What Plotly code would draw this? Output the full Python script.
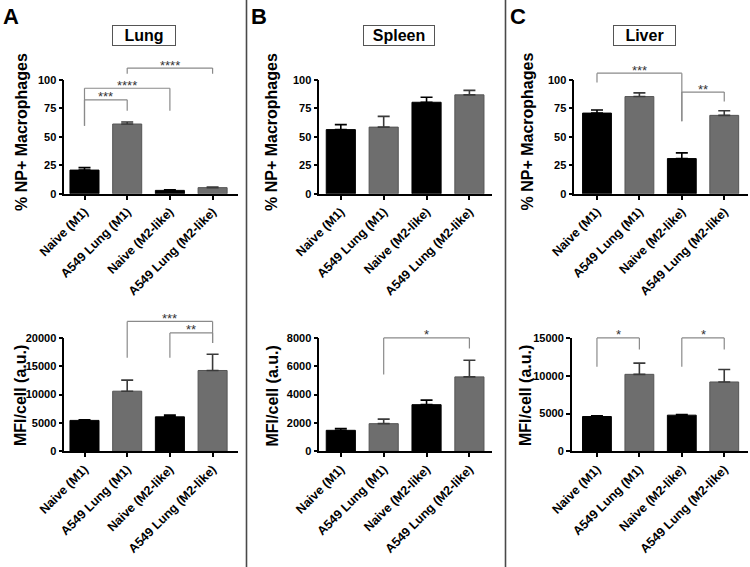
import plotly.graph_objects as go

# ---------------- data ----------------
categories = ["Naive (M1)", "A549 Lung (M1)", "Naive (M2-like)", "A549 Lung (M2-like)"]

lung_np = [20.8, 61.2, 3.0, 5.4]
lung_np_err = [2.2, 1.8, 0.6, 0.6]
spleen_np = [56.3, 58.5, 80.3, 86.8]
spleen_np_err = [4.4, 9.4, 4.4, 3.9]
liver_np = [70.8, 85.3, 30.9, 68.8]
liver_np_err = [2.7, 3.2, 5.0, 4.1]

lung_mfi = [5450, 10600, 6080, 14250]
lung_mfi_err = [100, 1950, 300, 2870]
spleen_mfi = [1480, 1950, 3290, 5250]
spleen_mfi_err = [130, 320, 320, 1170]
liver_mfi = [4600, 10180, 4780, 9170]
liver_mfi_err = [80, 1480, 90, 1660]

# significance brackets: (left idx, right idx, bar level, left leg bottom, right leg bottom, label)
lung_np_sig = [(0, 1, 82.4, 59.7, 72.9, "***"), (0, 2, 92.6, 59.7, 72.9, "****"),
               (1, 3, 110.3, 105.3, 105.3, "****")]
spleen_np_sig = []
liver_np_sig = [(0, 2, 105.8, 97.7, 63.6, "***"), (2, 3, 89.2, 63.6, 81.0, "**")]
lung_mfi_sig = [(1, 3, 22900, 16500, 19100, "***"), (2, 3, 20880, 16500, 19100, "**")]
spleen_mfi_sig = [(1, 3, 8000, 5410, 7250, "*")]
liver_mfi_sig = [(0, 1, 15000, 11180, 13460, "*"), (2, 3, 15000, 11180, 13460, "*")]

organs = ["Lung", "Spleen", "Liver"]
letters = ["A", "B", "C"]
np_title = "% NP+ Macrophages"
mfi_title = "MFI/cell (a.u.)"

# ---------------- layout helpers ----------------
W, H = 750, 567
FONT = "Liberation Sans, Arial, sans-serif"


def fx(p):
    return p / W


def fy(p):
    return 1 - p / H


panels = [
    dict(v=lung_np, e=lung_np_err, s=lung_np_sig, ymax=100, dtick=25, xd=(64.3, 238), xr=(-0.473, 3.595), yd=(193.8, 79.8)),
    dict(v=spleen_np, e=spleen_np_err, s=spleen_np_sig, ymax=100, dtick=25, xd=(319.3, 491.7), xr=(-0.502, 3.52), yd=(193.8, 79.8)),
    dict(v=liver_np, e=liver_np_err, s=liver_np_sig, ymax=100, dtick=25, xd=(574.3, 748), xr=(-0.535, 3.56), yd=(193.8, 79.8)),
    dict(v=lung_mfi, e=lung_mfi_err, s=lung_mfi_sig, ymax=20000, dtick=5000, xd=(64.3, 238), xr=(-0.473, 3.595), yd=(451.3, 337.9)),
    dict(v=spleen_mfi, e=spleen_mfi_err, s=spleen_mfi_sig, ymax=8000, dtick=2000, xd=(319.3, 491.7), xr=(-0.502, 3.52), yd=(451.3, 337.9)),
    dict(v=liver_mfi, e=liver_mfi_err, s=liver_mfi_sig, ymax=15000, dtick=5000, xd=(571.7, 748), xr=(-0.595, 3.56), yd=(451.3, 337.9)),
]

BLACK = "#000000"
GRAY = "#6e6e6e"
BAR_W = 0.68

fig = go.Figure()
shapes = []
annotations = []
layout = {}

for k, p in enumerate(panels):
    n = k + 1
    xa = "x" if n == 1 else f"x{n}"
    ya = "y" if n == 1 else f"y{n}"
    # black bars (Naive) and gray bars (A549 Lung)
    for idxs, col, ecol in (([0, 2], BLACK, BLACK), ([1, 3], GRAY, "#3a3a3a")):
        fig.add_trace(go.Bar(
            x=[categories[i] for i in idxs],
            y=[p["v"][i] for i in idxs],
            width=BAR_W,
            marker=dict(color=col, line=dict(color="#000000" if col == BLACK else "#555555", width=1)),
            error_y=dict(type="data", array=[p["e"][i] for i in idxs], arrayminus=[0, 0],
                         symmetric=False, color=ecol, thickness=1.6, width=6),
            xaxis=xa, yaxis=ya, showlegend=False, hoverinfo="skip",
        ))
    layout["xaxis" if n == 1 else f"xaxis{n}"] = dict(
        domain=[fx(p["xd"][0]), fx(p["xd"][1])], anchor=ya, automargin=False,
        type="category", categoryorder="array", categoryarray=categories,
        range=list(p["xr"]), showline=True, linecolor="black", linewidth=1.5,
        ticks="outside", ticklen=4, tickwidth=1.5, tickcolor="black",
        tickangle=-45, tickfont=dict(family=FONT, size=12.5, color="black", weight="bold"),
        showgrid=False, zeroline=False, fixedrange=True,
    )
    layout["yaxis" if n == 1 else f"yaxis{n}"] = dict(
        domain=[fy(p["yd"][0]), fy(p["yd"][1])], anchor=xa, automargin=False,
        range=[0, p["ymax"]], dtick=p["dtick"], tick0=0, tickformat="d",
        showline=True, linecolor="black", linewidth=1.5,
        ticks="outside", ticklen=4, tickwidth=1.5, tickcolor="black",
        tickfont=dict(family=FONT, size=11, color="black", weight="bold"),
        showgrid=False, zeroline=False, fixedrange=True,
    )
    # significance brackets (y given in axis-domain fractions so they may rise above the axis)
    yd_ref = ("y" if n == 1 else f"y{n}") + " domain"
    for (i, j, lvl, lb, rb, lab) in p["s"]:
        ci, cj = categories[i], categories[j]
        for (xa0, ya0, xa1, ya1) in ((ci, lb, ci, lvl), (ci, lvl, cj, lvl), (cj, lvl, cj, rb)):
            shapes.append(dict(type="line", xref=xa, yref=yd_ref,
                               x0=xa0, x1=xa1, y0=ya0 / p["ymax"], y1=ya1 / p["ymax"],
                               line=dict(color="#8a8a8a", width=1.2)))
        annotations.append(dict(xref=xa, yref=yd_ref, x=(i + j) / 2, y=lvl / p["ymax"], text=lab,
                                showarrow=False, yanchor="middle", yshift=3,
                                font=dict(family=FONT, size=13, color="#333333")))

# y-axis titles
for cx, cy, txt in ((21, 132, np_title), (271, 132, np_title), (526.5, 132, np_title),
                    (20, 396, mfi_title), (271.5, 396, mfi_title), (525, 396, mfi_title)):
    annotations.append(dict(xref="paper", yref="paper", x=fx(cx), y=fy(cy), text=txt,
                            textangle=-90, showarrow=False, xanchor="center", yanchor="middle",
                            font=dict(family=FONT, size=16, color="black", weight="bold")))

# panel letters
for cx, cy, txt in ((11, 16, letters[0]), (259, 16, letters[1]), (518, 16, letters[2])):
    annotations.append(dict(xref="paper", yref="paper", x=fx(cx), y=fy(cy), text=txt,
                            showarrow=False, xanchor="center", yanchor="middle",
                            font=dict(family=FONT, size=22, color="black", weight="bold")))

# organ title boxes
for cx, cy, bw, txt in ((143.7, 35, 62, organs[0]), (399, 35, 70, organs[1]), (644.5, 35, 61, organs[2])):
    annotations.append(dict(xref="paper", yref="paper", x=fx(cx), y=fy(cy), text=txt,
                            showarrow=False, xanchor="center", yanchor="middle",
                            width=bw, height=19, borderpad=0, bordercolor="#555555", borderwidth=1,
                            bgcolor="white",
                            font=dict(family=FONT, size=16, color="black", weight="bold")))

# panel divider lines
for xv in (246.5, 505.5):
    shapes.append(dict(type="line", xref="paper", yref="paper", x0=fx(xv), x1=fx(xv), y0=0, y1=1,
                       line=dict(color="#4a4a4a", width=1.6)))

fig.update_layout(
    width=W, height=H, margin=dict(l=0, r=0, t=0, b=0, autoexpand=False),
    paper_bgcolor="white", plot_bgcolor="white",
    barmode="overlay", shapes=shapes, annotations=annotations,
    font=dict(family=FONT), **layout,
)

fig.write_html("out.html", config={"displayModeBar": False},
               post_script="document.body.style.margin='0';document.body.style.padding='0';")
